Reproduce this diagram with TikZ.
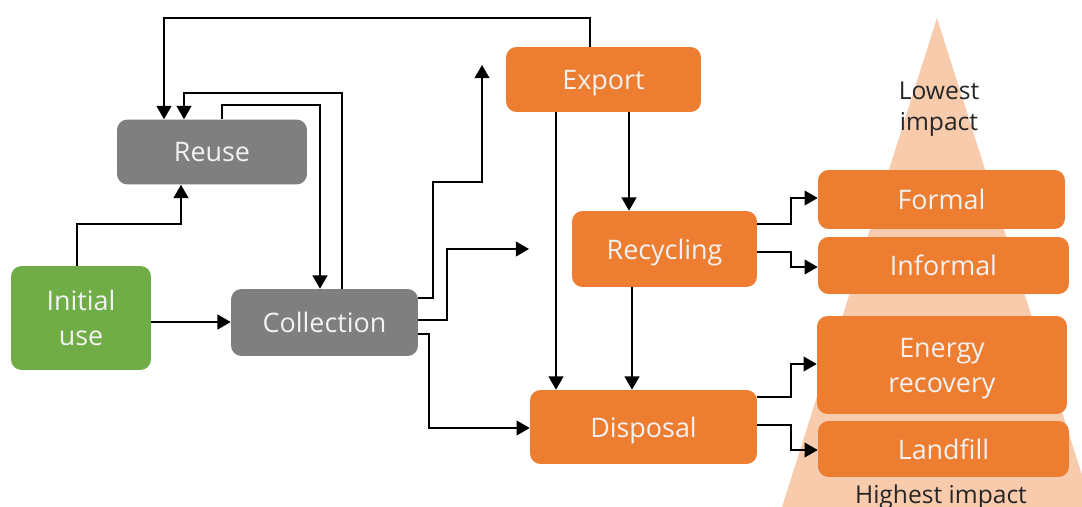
\documentclass[tikz,border=0pt]{standalone}
\usepackage{fontspec}
\setmainfont{Open Sans}
\usetikzlibrary{arrows.meta}

\definecolor{boxorange}{HTML}{ED7D31}
\definecolor{boxgray}{HTML}{7F7F7F}
\definecolor{boxgreen}{HTML}{70AD47}
\definecolor{pyrfill}{HTML}{F8CBAD}

\tikzset{
  stage/.style = {rectangle, rounded corners=6pt, inner sep=0pt, align=center,
                  text depth=0pt, text=white!95!black, font=\fontsize{15.3}{20}\selectfont},
  orange/.style = {stage, fill=boxorange},
  grey/.style = {stage, fill=boxgray},
  green/.style = {stage, fill=boxgreen},
  flow/.style = {-{Triangle[length=7.5pt,width=8.5pt]}, line width=0.7pt}
}

\begin{document}
\begin{tikzpicture}[x=0.02cm, y=-0.02cm]
      \useasboundingbox (0,0) rectangle (1082,507);

      % Impact pyramid
      \fill[pyrfill] (937,18) -- (1082,475) -- (1082,507) -- (782,507) -- cycle;
      \node[align=center, font=\fontsize{14}{17.8}\selectfont, text=black!85] (low) at (939,109) {Lowest\\impact};
      \node[font=\fontsize{14}{17}\selectfont, text=black!85] (high) at (941,497) {Highest impact};

      % Stages
      \node[green, minimum width=2.8cm, minimum height=2.08cm] (initial) at (81,318) {Initial\\use};
      \node[grey, minimum width=3.8cm, minimum height=1.3cm] (reuse) at (212,152) {Reuse};
      \node[grey, minimum width=3.74cm, minimum height=1.34cm] (collection) at (324.5,322.5) {Collection};
      \node[orange, minimum width=3.9cm, minimum height=1.3cm] (export) at (603.5,79.5) {Export};
      \node[orange, minimum width=3.7cm, minimum height=1.52cm] (recycling) at (664.5,249) {Recycling};
      \node[orange, minimum width=4.54cm, minimum height=1.48cm] (disposal) at (643.5,427) {Disposal};
      \node[orange, minimum width=4.94cm, minimum height=1.18cm] (formal) at (941.5,199.5) {Formal};
      \node[orange, minimum width=5.02cm, minimum height=1.14cm] (informal) at (943.5,265.5) {Informal};
      \node[orange, minimum width=5.0cm, minimum height=1.96cm] (energy) at (942,365) {Energy\\recovery};
      \node[orange, minimum width=5.02cm, minimum height=1.12cm] (landfill) at (943.5,449) {Landfill};

      % Free ends
      \coordinate (exportin) at (482,65);
      \coordinate (recyclingin) at (529,249);

      % Flows
      \draw[flow] (export.north -| 590,0) -- (590,18) -| (reuse.north -| 164,0);
      \draw[flow] (collection.north -| 342,0) -- (342,93) -| (reuse.north -| 184,0);
      \draw[flow] (reuse.north -| 222,0) -- (222,105) -| (collection.north -| 320,0);
      \draw[flow] (initial.north -| 77,0) -- (77,224) -| (reuse.south -| 181,0);
      \draw[flow] (initial.east |- 0,322) -- (collection.west |- 0,322);
      \draw[flow] (collection.east |- 0,298) -- (433,298) |- (482,182) -- (exportin);
      \draw[flow] (collection.east |- 0,320) -- (447,320) |- (recyclingin);
      \draw[flow] (collection.east |- 0,334) -- (429,334) |- (disposal.west |- 0,428);
      \draw[flow] (export.south -| 556,0) -- (disposal.north -| 556,0);
      \draw[flow] (export.south -| 629,0) -- (recycling.north -| 629,0);
      \draw[flow] (recycling.south -| 632,0) -- (disposal.north -| 632,0);
      \draw[flow] (recycling.east |- 0,224) -- (791,224) |- (formal.west |- 0,198);
      \draw[flow] (recycling.east |- 0,252) -- (791,252) |- (informal.west |- 0,267);
      \draw[flow] (disposal.east |- 0,397) -- (791,397) |- (energy.west |- 0,364);
      \draw[flow] (disposal.east |- 0,425) -- (791,425) |- (landfill.west |- 0,450);
\end{tikzpicture}
\end{document}
